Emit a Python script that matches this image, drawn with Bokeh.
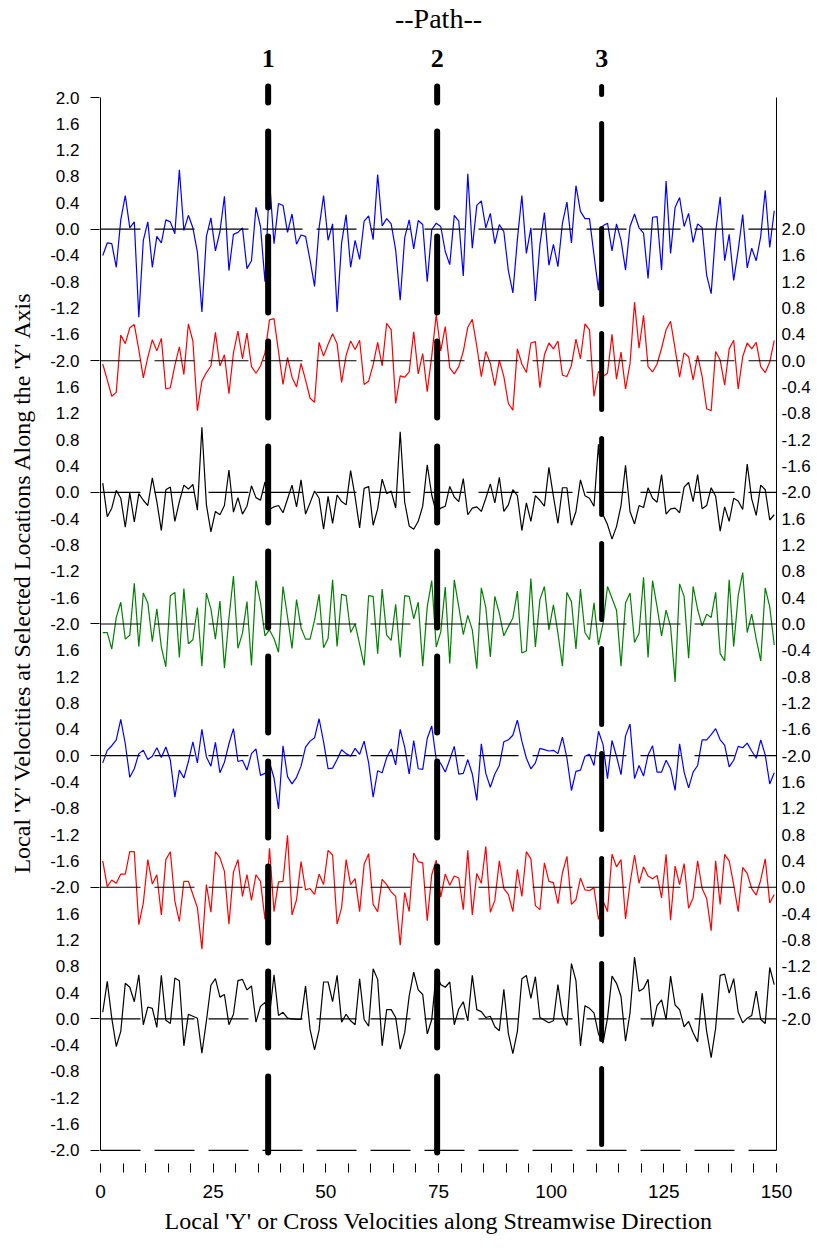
from bokeh.plotting import figure
from bokeh.models import Range1d, LinearAxis, FixedTicker
from bokeh.core.properties import value
from bokeh.embed import file_html
from bokeh.resources import INLINE

# ---------------- data ----------------
x_pos = [i + 0.5 for i in range(150)]  # sample stations along the streamwise direction

s1_blue = [-0.40, -0.21, -0.22, -0.58, 0.14, 0.51, 0.02, 0.11, -1.34, -0.17,
           0.11, -0.58, -0.11, -0.21, 0.14, 0.11, -0.07, 0.90, -0.02, 0.21,
           0.02, -0.35, -1.26, -0.11, 0.17, -0.33, -0.04, 0.50, -0.63, -0.08,
           -0.05, 0.02, -0.60, -0.48, 0.33, 0.04, -0.80, 0.75, -0.22, 0.39,
           0.36, -0.05, 0.23, -0.23, -0.09, -0.11, -0.47, -0.87, 0.02, 0.51,
           -0.17, 0.08, -1.26, -0.21, 0.22, -0.58, -0.17, -0.46, 0.12, 0.20,
           -0.16, 0.83, 0.05, 0.16, 0.08, -0.32, -1.08, -0.13, 0.14, -0.30,
           0.13, 0.07, -0.80, -0.01, 0.09, 0.04, -0.34, -0.54, 0.21, 0.12,
           -0.71, 0.84, -0.29, 0.36, 0.43, 0.02, 0.24, -0.22, 0.07, -0.04,
           -0.63, -0.97, -0.16, 0.51, -0.37, 0.02, -1.09, -0.24, 0.25, -0.55,
           -0.23, -0.57, 0.09, 0.41, -0.21, 0.66, 0.27, 0.16, 0.16, -0.39,
           -0.93, 0.05, 0.09, -0.33, 0.08, -0.17, -0.62, 0.04, 0.23, 0.02,
           -0.06, -0.75, 0.18, 0.19, -0.62, 0.73, -0.37, 0.33, 0.48, 0.04,
           0.24, -0.20, 0.08, 0.02, -0.70, -0.98, -0.04, 0.49, -0.48, -0.08,
           -0.78, -0.32, 0.22, -0.59, -0.29, -0.48, -0.11, 0.59, -0.28, 0.28]

s2_red = [-0.05, -0.29, -0.54, -0.48, 0.39, 0.26, 0.50, 0.55, 0.17, -0.26,
          0.05, 0.32, 0.15, 0.34, -0.43, -0.41, -0.07, 0.21, -0.21, 0.56,
          0.30, -0.76, -0.31, -0.18, -0.08, 0.43, -0.08, 0.09, -0.50, 0.12,
          0.45, 0.03, 0.42, -0.09, -0.19, -0.08, 0.12, 0.62, 0.64, 0.14,
          -0.36, 0.05, -0.25, -0.40, -0.04, -0.29, -0.57, -0.63, 0.28, 0.07,
          0.25, 0.41, 0.26, -0.33, 0.08, 0.30, 0.17, 0.31, -0.36, -0.31,
          -0.06, 0.28, -0.08, 0.57, 0.47, -0.65, -0.23, -0.25, -0.17, 0.44,
          -0.20, 0.11, -0.47, 0.07, 0.70, 0.15, 0.52, -0.11, -0.20, -0.09,
          0.14, 0.51, 0.63, 0.22, -0.24, 0.14, -0.04, -0.38, 0.01, -0.24,
          -0.65, -0.75, 0.18, -0.05, -0.18, 0.27, 0.29, -0.41, 0.09, 0.27,
          0.18, 0.30, -0.22, -0.24, -0.07, 0.33, 0.03, 0.56, 0.47, -0.54,
          -0.16, -0.24, -0.19, 0.40, -0.28, 0.13, -0.43, -0.04, 0.89, 0.19,
          0.69, -0.09, -0.17, -0.05, 0.19, 0.47, 0.60, 0.18, -0.25, 0.12,
          0.06, -0.29, 0.08, -0.24, -0.73, -0.76, 0.14, 0.01, -0.37, 0.18,
          0.31, -0.43, 0.06, 0.27, 0.18, 0.28, -0.09, -0.18, -0.02, 0.31]

s3_black = [0.14, -0.37, -0.24, 0.03, -0.09, -0.53, -0.01, -0.45, -0.02, -0.12,
            -0.20, 0.22, -0.14, -0.58, 0.04, 0.08, -0.44, -0.14, 0.11, 0.05,
            0.12, -0.27, 0.99, -0.19, -0.60, -0.29, -0.34, -0.20, 0.34, -0.30,
            -0.08, -0.33, -0.21, 0.10, -0.08, -0.12, 0.16, -0.26, -0.22, -0.20,
            -0.31, -0.10, 0.11, -0.22, 0.19, -0.33, -0.16, 0.02, -0.09, -0.56,
            -0.06, -0.47, -0.04, -0.14, -0.19, 0.33, -0.07, -0.54, 0.06, 0.09,
            -0.50, -0.25, 0.20, -0.02, 0.02, -0.24, 0.92, -0.15, -0.51, -0.56,
            -0.44, -0.21, 0.42, -0.04, -0.31, -0.24, -0.21, 0.09, -0.07, -0.14,
            0.21, -0.34, -0.24, -0.22, -0.29, -0.09, 0.13, -0.16, 0.23, -0.29,
            -0.19, 0.04, -0.05, -0.58, -0.16, -0.44, -0.05, -0.12, -0.21, 0.38,
            -0.06, -0.47, 0.07, 0.07, -0.50, -0.29, 0.19, -0.05, -0.09, -0.21,
            0.73, -0.34, -0.49, -0.71, -0.52, -0.20, 0.41, -0.29, -0.48, -0.20,
            -0.23, 0.07, -0.09, -0.15, 0.27, -0.33, -0.25, -0.24, -0.31, 0.08,
            0.15, -0.14, 0.27, -0.25, -0.20, 0.07, -0.06, -0.59, -0.22, -0.44,
            -0.09, -0.13, -0.26, 0.43, -0.10, -0.35, 0.11, 0.04, -0.42, -0.34]

s4_green = [-0.13, -0.13, -0.38, 0.10, 0.33, -0.23, -0.17, 0.62, -0.34, 0.47,
            0.32, -0.27, 0.23, -0.35, -0.65, 0.43, 0.48, -0.51, 0.54, -0.30,
            -0.24, 0.25, -0.64, 0.47, 0.23, -0.23, 0.35, -0.67, 0.09, 0.73,
            -0.37, -0.14, 0.34, -0.63, 0.66, 0.33, -0.18, -0.09, -0.22, -0.43,
            0.57, 0.11, -0.37, 0.37, -0.06, -0.23, -0.23, 0.06, 0.45, -0.36,
            -0.22, 0.67, -0.34, 0.45, 0.43, -0.13, 0.00, -0.31, -0.63, 0.43,
            0.42, -0.45, 0.53, -0.17, -0.25, 0.30, -0.51, 0.43, 0.42, 0.08,
            0.33, -0.64, 0.26, 0.66, -0.35, -0.12, 0.56, -0.60, 0.67, 0.26,
            -0.16, 0.13, -0.09, -0.68, 0.55, 0.25, -0.50, 0.42, 0.16, -0.18,
            -0.04, 0.09, 0.50, -0.44, -0.41, 0.69, -0.35, 0.37, 0.57, -0.09,
            0.29, -0.14, -0.64, 0.48, 0.34, -0.38, 0.53, -0.13, -0.24, 0.32,
            -0.32, 0.00, 0.57, 0.39, 0.21, -0.64, 0.32, 0.47, -0.28, -0.14,
            0.71, -0.51, 0.66, 0.26, -0.18, 0.21, -0.04, -0.88, 0.61, 0.42,
            -0.52, 0.57, 0.22, -0.03, 0.15, 0.10, 0.48, -0.45, -0.56, 0.67,
            -0.34, 0.43, 0.78, -0.13, 0.15, -0.23, -0.56, 0.55, 0.26, -0.32]

s5_blue = [-0.11, 0.08, 0.15, 0.24, 0.55, 0.18, -0.33, -0.20, 0.03, 0.08,
           -0.06, -0.01, 0.12, -0.03, 0.13, -0.07, -0.63, -0.22, -0.34, -0.09,
           0.21, -0.11, 0.40, -0.02, -0.16, 0.20, -0.26, -0.10, 0.18, 0.41,
           -0.09, -0.07, -0.22, 0.03, 0.10, -0.30, -0.27, -0.10, -0.34, -0.81,
           0.15, -0.32, -0.43, -0.33, -0.16, 0.13, 0.22, 0.27, 0.56, 0.21,
           -0.20, -0.19, -0.06, 0.09, 0.03, -0.01, 0.11, 0.02, 0.22, -0.11,
           -0.63, -0.23, -0.26, -0.03, 0.10, -0.14, 0.40, 0.13, -0.28, 0.23,
           -0.20, -0.21, 0.26, 0.45, -0.06, -0.12, -0.25, -0.06, 0.14, -0.28,
           -0.27, -0.06, -0.28, -0.68, 0.18, -0.27, -0.48, -0.28, -0.15, 0.21,
           0.24, 0.31, 0.54, 0.22, -0.04, -0.20, -0.11, 0.11, 0.09, 0.07,
           0.08, 0.03, 0.28, -0.04, -0.53, -0.24, -0.22, -0.01, 0.02, -0.15,
           0.37, 0.17, -0.35, 0.23, -0.01, -0.29, 0.30, 0.48, -0.35, -0.15,
           -0.31, 0.01, 0.15, -0.25, -0.25, -0.07, -0.20, -0.53, 0.18, -0.25,
           -0.49, -0.25, -0.15, 0.24, 0.24, 0.32, 0.41, 0.24, 0.16, -0.17,
           -0.07, 0.14, 0.12, 0.19, 0.07, -0.04, 0.24, 0.01, -0.43, -0.26]

s6_red = [0.40, 0.01, 0.11, 0.06, 0.20, 0.20, 0.54, 0.54, -0.57, -0.24,
          0.42, 0.05, 0.19, -0.42, 0.42, 0.54, -0.21, -0.52, 0.09, 0.09,
          -0.11, -0.31, -0.94, 0.04, -0.38, 0.54, 0.45, 0.24, -0.56, 0.23,
          0.42, -0.14, 0.19, -0.20, 0.19, 0.09, -0.49, 0.59, -0.37, 0.08,
          0.09, 0.79, -0.42, -0.19, 0.39, -0.04, -0.02, -0.11, 0.20, 0.04,
          0.56, 0.49, -0.56, -0.31, 0.42, 0.04, 0.13, -0.37, 0.35, 0.51,
          -0.26, -0.37, 0.12, 0.04, -0.07, -0.14, -0.88, -0.08, -0.37, 0.52,
          0.39, 0.37, -0.51, 0.19, 0.41, -0.15, 0.20, 0.03, 0.17, 0.14,
          -0.34, 0.56, -0.42, 0.21, 0.06, 0.62, -0.38, -0.20, 0.40, -0.02,
          -0.11, -0.37, 0.27, -0.14, 0.54, 0.43, -0.28, -0.34, 0.37, 0.09,
          0.07, -0.25, 0.22, 0.47, -0.26, -0.19, 0.14, -0.04, -0.05, -0.01,
          -0.49, -0.21, -0.37, 0.50, 0.31, 0.42, -0.48, 0.06, 0.49, 0.06,
          0.31, 0.17, 0.13, 0.18, -0.16, 0.50, -0.50, 0.32, 0.04, 0.36,
          -0.32, -0.16, 0.40, -0.02, -0.17, -0.66, 0.40, -0.26, 0.50, 0.40,
          0.04, -0.37, 0.30, 0.21, -0.02, -0.12, 0.11, 0.43, -0.24, -0.11]

s7_black = [0.10, 0.57, 0.01, -0.42, -0.19, 0.54, 0.48, 0.26, 0.67, -0.09,
            0.18, 0.16, -0.13, 0.66, -0.02, -0.07, 0.62, 0.58, -0.41, 0.07,
            0.04, 0.01, -0.52, -0.03, 0.51, 0.61, 0.33, 0.37, -0.09, 0.07,
            0.58, 0.60, 0.44, 0.50, -0.05, 0.19, 0.25, 0.05, 0.67, 0.05,
            0.10, 0.01, 0.00, -0.01, -0.01, 0.50, -0.16, -0.47, -0.17, 0.56,
            0.56, 0.26, 0.66, -0.05, 0.07, -0.03, -0.09, 0.61, -0.01, -0.11,
            0.76, 0.60, -0.41, 0.14, 0.14, 0.02, -0.46, -0.21, 0.35, 0.71,
            0.44, 0.37, -0.23, -0.01, 0.70, 0.52, 0.48, 0.56, -0.09, 0.15,
            0.26, -0.03, 0.66, 0.14, 0.11, 0.02, 0.04, -0.12, -0.18, 0.45,
            -0.22, -0.53, -0.19, 0.61, 0.66, 0.31, 0.64, 0.02, -0.02, -0.06,
            -0.03, 0.52, 0.05, -0.10, 0.84, 0.58, -0.41, 0.20, 0.16, 0.09,
            -0.23, -0.37, 0.01, 0.65, 0.54, 0.34, -0.34, 0.09, 0.94, 0.42,
            0.46, 0.60, -0.12, 0.20, 0.29, -0.01, 0.65, 0.21, 0.14, -0.12,
            -0.04, -0.21, -0.35, 0.39, -0.19, -0.59, -0.14, 0.66, 0.68, 0.39,
            0.61, 0.10, -0.06, 0.01, 0.05, 0.42, -0.01, -0.07, 0.78, 0.52]

series = [s1_blue, s2_red, s3_black, s4_green, s5_blue, s6_red, s7_black]
colors = ["#0000ff", "#ff0000", "#000000", "#008000", "#0000ff", "#ff0000", "#000000"]
offsets = [0, -2, -4, -6, -8, -10, -12]          # stacking of the 7 panels
sides = ["left", "right", "left", "right", "left", "right", "left"]
local_ticks = [2.0, 1.6, 1.2, 0.8, 0.4, 0.0, -0.4, -0.8, -1.2, -1.6, -2.0]

path_x = [37.2, 74.7, 111.2]
path_names = ["1", "2", "3"]

x_major = [0, 25, 50, 75, 100, 125, 150]
x_minor = [5, 10, 15, 20, 30, 35, 40, 45, 55, 60, 65, 70, 80, 85, 90, 95,
           105, 110, 115, 120, 130, 135, 140, 145]

# ---------------- figure ----------------
Y_TOP, Y_BOT = 3.474, -14.198     # frame covers the whole upper area (titles drawn inside)
PATH_TOP = 2.167
p = figure(width=817, height=1248, output_backend="svg", toolbar_location=None,
           x_range=Range1d(-0.222, 150.222), y_range=Range1d(Y_BOT, Y_TOP),
           min_border_left=99, min_border_right=40, min_border_top=0,
           min_border_bottom=85, title=None)
p.outline_line_color = None
p.grid.visible = False
p.background_fill_color = "white"
p.border_fill_color = "white"

def build_ticks(side):
    ticks, labels = [], {}
    for off, sd in zip(offsets, sides):
        if sd != side:
            continue
        for t in local_ticks:
            v = round(off + t, 1)
            if v not in labels:
                ticks.append(v)
                labels[v] = f"{t:.1f}"
    return ticks, labels

lt, llab = build_ticks("left")
rt, rlab = build_ticks("right")
left_minor = sorted({float(o) for o in offsets} | {2.0, -14.0})

yl = p.yaxis[0]
yl.ticker = FixedTicker(ticks=lt, minor_ticks=left_minor)
yl.major_label_overrides = llab
yl.axis_line_color = None
yl.major_tick_out = 0
yl.major_tick_in = 0
yl.minor_tick_out = 9
yl.minor_tick_in = 0
yl.minor_tick_line_color = "black"
yl.major_label_standoff = 11
yl.major_label_text_font = "Liberation Sans"
yl.major_label_text_font_size = "17px"
yl.major_label_text_color = "black"
yl.axis_label = "Local 'Y' Velocities at Selected Locations Along the 'Y' Axis"
yl.axis_label_text_font = "Liberation Serif"
yl.axis_label_text_font_style = "normal"
yl.axis_label_text_font_size = "24px"
yl.axis_label_text_color = "black"
yl.axis_label_standoff = 12

yr = LinearAxis(ticker=FixedTicker(ticks=rt, minor_ticks=[]),
                major_label_overrides=rlab, axis_line_color=None,
                major_tick_out=0, major_tick_in=0, minor_tick_out=0, minor_tick_in=0,
                major_label_standoff=4, major_label_text_font="Liberation Sans",
                major_label_text_font_size="17px", major_label_text_color="black")
p.add_layout(yr, "right")

xa = p.xaxis[0]
xa.ticker = FixedTicker(ticks=x_major, minor_ticks=x_minor)
xa.axis_line_color = None
xa.major_tick_out = 9
xa.major_tick_in = 0
xa.minor_tick_out = 9
xa.minor_tick_in = 0
xa.minor_tick_line_color = "black"
xa.major_label_standoff = 12
xa.major_label_text_font = "Liberation Sans"
xa.major_label_text_font_size = "19px"
xa.major_label_text_color = "black"
xa.axis_label = "Local 'Y' or Cross Velocities along Streamwise Direction"
xa.axis_label_text_font = "Liberation Serif"
xa.axis_label_text_font_style = "normal"
xa.axis_label_text_font_size = "24px"
xa.axis_label_text_color = "black"
xa.axis_label_standoff = 7

# frame side lines
p.segment(x0=[x_major[0], x_major[-1]], y0=[2, 2], x1=[x_major[0], x_major[-1]],
          y1=[offsets[-1] - 2] * 2, line_color="black", line_width=1)

# series
for vals, col, off in zip(series, colors, offsets):
    p.line(x_pos, [v + off for v in vals], line_color=col, line_width=1.2)

# dashed zero lines of every panel + bottom line
levels = offsets + [offsets[-1] - 2]
p.segment(x0=[x_major[0]] * len(levels), y0=levels, x1=[x_major[-1]] * len(levels),
          y1=levels, line_color="black", line_width=1.2, line_dash="40 14")

# path markers (thick dashed verticals)
p.segment(x0=path_x[:2], y0=[PATH_TOP] * 2, x1=path_x[:2], y1=[Y_BOT] * 2,
          line_color="black", line_width=6, line_dash="76 29",
          line_dash_offset=60, line_cap="round")
p.segment(x0=path_x[2:], y0=[PATH_TOP], x1=path_x[2:], y1=[Y_BOT],
          line_color="black", line_width=5, line_dash="76 29",
          line_dash_offset=68, line_cap="round")

# titles inside the (extended) frame
p.text(x=[75], y=[3.2], text=["--Path--"], text_font=value("Liberation Serif"),
       text_font_size="28px", text_align="center", text_baseline="middle",
       text_color="black")
p.text(x=path_x, y=[2.6] * 3, text=path_names, text_font=value("Liberation Serif"),
       text_font_size="26px", text_font_style="bold", text_align="center",
       text_baseline="middle", text_color="black")

open("out.html", "w").write(file_html(p, INLINE))
